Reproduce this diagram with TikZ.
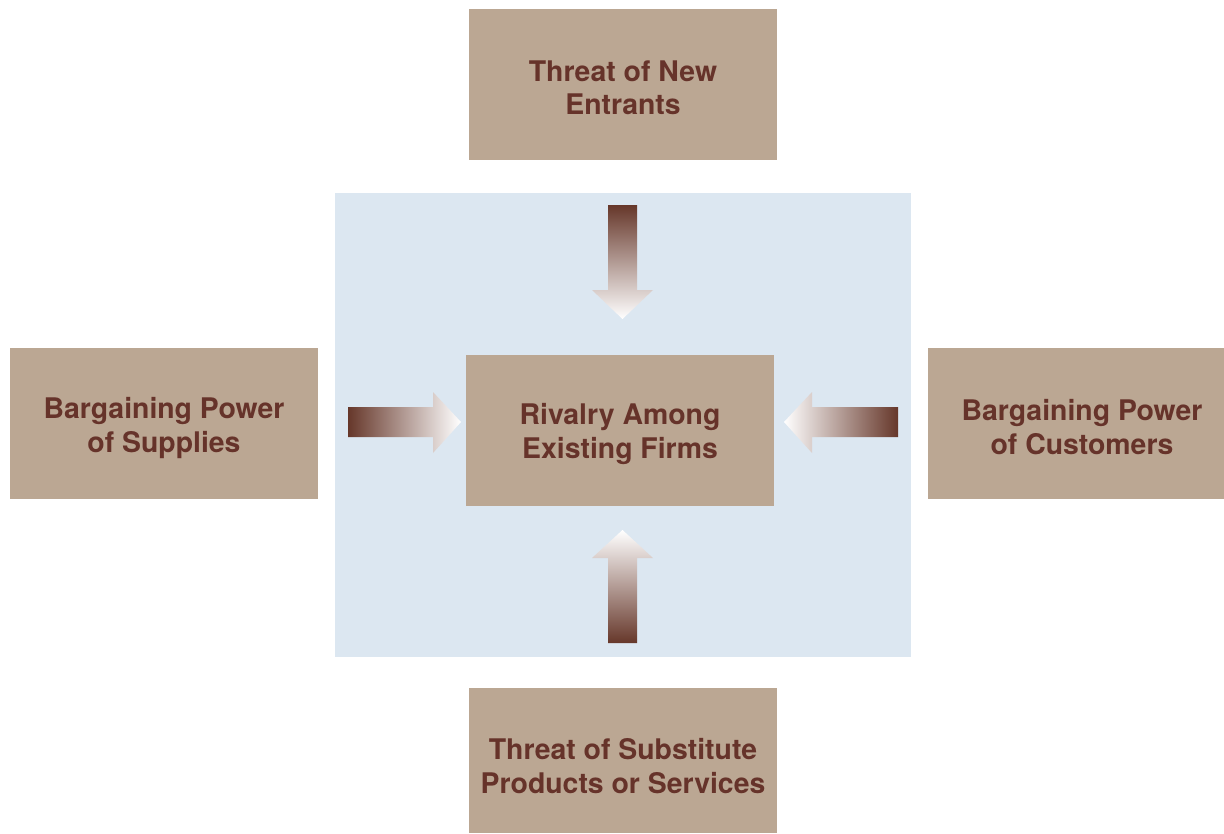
\documentclass[tikz,border=0pt]{standalone}
\usepackage{fontspec}
\setmainfont{TeX Gyre Heros}
\definecolor{boxfill}{HTML}{BBA793}
\definecolor{txt}{HTML}{66332A}
\definecolor{bgblue}{HTML}{DCE7F1}
\definecolor{arrdark}{HTML}{66372A}
\tikzset{
  force/.style={fill=boxfill, draw=none},
  lbl/.style={text=txt, align=center, font=\fontsize{28.4}{33.5}\selectfont\bfseries},
}
\begin{document}
\begin{tikzpicture}[x=1pt,y=-1pt]
\useasboundingbox (0,0) rectangle (1224,833);
% background
\fill[bgblue] (335,193) rectangle (911,657);
% boxes
\fill[force] (469,9) rectangle (777,160);
\fill[force] (10,348) rectangle (318,499);
\fill[force] (928,348) rectangle (1224,499);
\fill[force] (469,688) rectangle (777,833);
\fill[force] (466,355) rectangle (774,506);
% labels
\node[lbl] (top) at (623,88) {Threat of New\\Entrants};
\node[lbl] (left) at (164,428) {Bargaining Power\\of Supplies};
\node[lbl] (right) at (1082,427) {Bargaining Power\\of Customers};
\node[lbl] (bottom) at (623,766) {Threat of Substitute\\Products or Services};
\node[lbl] (center) at (620,434) {Rivalry Among\\Existing Firms};
% arrows
\shade[top color=arrdark, bottom color=white]
  (608,205) -- (637,205) -- (637,290) -- (653,290) -- (622.5,319) -- (592,290) -- (608,290) -- cycle;
\shade[bottom color=arrdark, top color=white]
  (608,643) -- (637,643) -- (637,558) -- (653,558) -- (622.5,530) -- (592,558) -- (608,558) -- cycle;
\shade[left color=arrdark, right color=white]
  (348,407) -- (433,407) -- (433,392) -- (461,422) -- (433,453) -- (433,437) -- (348,437) -- cycle;
\shade[right color=arrdark, left color=white]
  (898,407) -- (812,407) -- (812,392) -- (784,422) -- (812,453) -- (812,437) -- (898,437) -- cycle;
\end{tikzpicture}
\end{document}
